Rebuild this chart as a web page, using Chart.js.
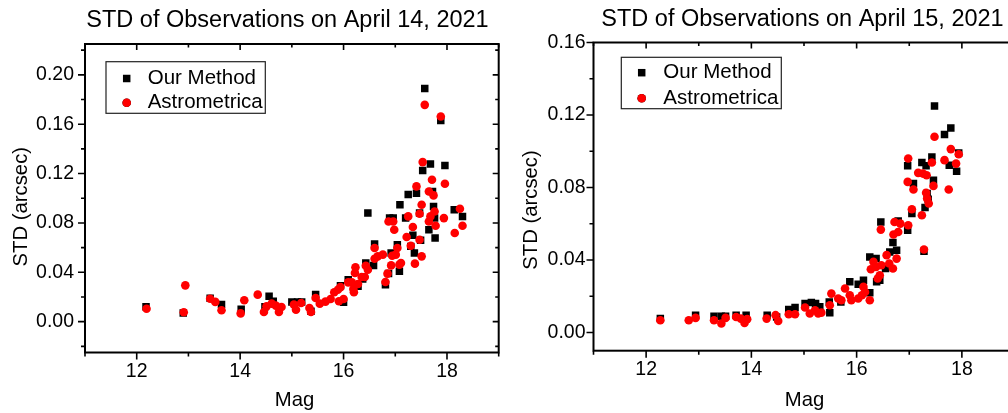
<!DOCTYPE html>
<html>
<head>
<meta charset="utf-8">
<title>STD of Observations</title>
<script src="https://cdn.jsdelivr.net/npm/chart.js@4.4.1/dist/chart.umd.min.js"></script>
<style>
  html, body { margin: 0; padding: 0; background: #fff; overflow: hidden; width: 1008px; height: 413px; }
  canvas { position: absolute; top: 0; }
  #c14 { left: 0; }
  #c15 { left: 504px; }
</style>
</head>
<body>
<canvas id="c14" width="504" height="413"></canvas>
<canvas id="c15" width="526" height="413"></canvas>
<script>
// ---- April 14, 2021 ----
const ourMag14 = [12.18, 12.90, 13.42, 13.64, 14.02, 14.48, 14.56, 14.64, 15.00, 15.11,
  15.19, 15.37, 15.46, 15.94, 16.00, 16.09, 16.28, 16.37, 16.43, 16.47,
  16.58, 16.60, 16.81, 16.87, 16.89, 16.96, 16.92, 17.04, 17.08, 17.09,
  17.20, 17.25, 17.30, 17.34, 17.37, 17.41, 17.47, 17.49, 17.53, 17.57,
  17.65, 17.68, 17.72, 17.74, 17.76, 17.77, 17.88, 17.96, 18.14, 18.30];
const ourStd14 = [0.012, 0.007, 0.019, 0.014, 0.010, 0.012, 0.0205, 0.0165, 0.016, 0.016,
  0.016, 0.0084, 0.022, 0.029, 0.0157, 0.034, 0.0286, 0.0345, 0.0475, 0.088,
  0.0456, 0.063, 0.030, 0.039, 0.084, 0.084, 0.0556, 0.0623, 0.0408, 0.0947,
  0.084, 0.103, 0.061, 0.070, 0.0556, 0.104, 0.088, 0.066, 0.1225, 0.189,
  0.0745, 0.1277, 0.1055, 0.0934, 0.084, 0.0677, 0.163, 0.1266, 0.0907, 0.0853];
const astMag14 = [12.19, 12.91, 12.94, 13.42, 13.52, 13.64, 14.01, 14.08, 14.34, 14.46,
  14.51, 14.61, 14.69, 14.75, 14.80, 15.04, 15.08, 15.18, 15.34, 15.37,
  15.46, 15.54, 15.65, 15.75, 15.82, 15.89, 15.94, 15.91, 16.00, 16.09,
  16.16, 16.19, 16.22, 16.23, 16.20, 16.28, 16.35, 16.41, 16.43, 16.47,
  16.60, 16.60, 16.66, 16.76, 16.81, 16.85, 16.87, 16.92, 16.94, 16.96,
  16.98, 17.01, 17.04, 17.08, 17.11, 17.22, 17.25, 17.30, 17.34, 17.38,
  17.41, 17.47, 17.51, 17.47, 17.51, 17.53, 17.57, 17.65, 17.65, 17.68,
  17.71, 17.74, 17.76, 17.78, 17.88, 17.94, 17.96, 18.15, 18.25, 18.30];
const astStd14 = [0.0105, 0.0076, 0.0294, 0.0186, 0.016, 0.0092, 0.0067, 0.0173, 0.0219, 0.0078,
  0.0124, 0.0146, 0.013, 0.0078, 0.0119, 0.0138, 0.0097, 0.0151, 0.011, 0.0078,
  0.0192, 0.0146, 0.0162, 0.0184, 0.0238, 0.0259, 0.028, 0.0165, 0.0184, 0.0318,
  0.0318, 0.0265, 0.0394, 0.044, 0.0238, 0.0305, 0.0362, 0.0362, 0.0453, 0.0421,
  0.0597, 0.051, 0.0529, 0.0543, 0.0321, 0.0389, 0.0812, 0.0456, 0.0534, 0.0812,
  0.0745, 0.0543, 0.0597, 0.0462, 0.0475, 0.0686, 0.0853, 0.0615, 0.0767, 0.047,
  0.1096, 0.0875, 0.0947, 0.0664, 0.0529, 0.1293, 0.1757, 0.1055, 0.0812, 0.0853,
  0.115, 0.1023, 0.0893, 0.0777, 0.1663, 0.0839, 0.1117, 0.0718, 0.0915, 0.0777];

// ---- April 15, 2021 ----
const ourMag15 = [12.27, 12.94, 13.29, 13.43, 13.51, 13.71, 13.90, 14.30, 14.48, 14.71,
  14.83, 15.02, 15.14, 15.22, 15.30, 15.48, 15.49, 15.70, 15.87, 16.03,
  16.13, 16.25, 16.25, 16.37, 16.38, 16.44, 16.46, 16.55, 16.63, 16.69,
  16.76, 16.79, 16.97, 16.97, 17.05, 17.08, 17.24, 17.28, 17.30, 17.32,
  17.34, 17.36, 17.43, 17.46, 17.48, 17.67, 17.76, 17.79, 17.90, 17.94];
const ourStd15 = [0.0077, 0.0096, 0.009, 0.009, 0.009, 0.0096, 0.0096, 0.0096, 0.0086, 0.0127,
  0.0138, 0.016, 0.0166, 0.016, 0.0142, 0.0169, 0.0109, 0.0169, 0.028, 0.0267,
  0.0289, 0.0219, 0.0417, 0.0408, 0.028, 0.0289, 0.061, 0.0353, 0.0445, 0.0497,
  0.0454, 0.0616, 0.092, 0.0565, 0.0657, 0.0822, 0.0938, 0.0449, 0.069, 0.092,
  0.0767, 0.0736, 0.0969, 0.084, 0.125, 0.1092, 0.0923, 0.1129, 0.089, 0.0991];
const astMag15 = [12.27, 12.81, 12.94, 13.29, 13.43, 13.51, 13.71, 13.80, 13.87, 13.92,
  14.29, 14.46, 14.51, 14.71, 14.83, 15.02, 15.11, 15.21, 15.27, 15.33,
  15.49, 15.52, 15.65, 15.71, 15.78, 15.87, 15.90, 16.03, 16.10, 16.13,
  16.16, 16.25, 16.27, 16.32, 16.37, 16.40, 16.44, 16.46, 16.47, 16.57,
  16.62, 16.69, 16.70, 16.72, 16.76, 16.79, 16.83, 16.97, 16.98, 16.98,
  17.05, 17.08, 17.17, 17.24, 17.26, 17.28, 17.32, 17.33, 17.34, 17.37,
  17.43, 17.46, 17.48, 17.67, 17.75, 17.79, 17.89, 17.94];
const astStd15 = [0.0068, 0.0068, 0.0081, 0.0068, 0.005, 0.0081, 0.0086, 0.0077, 0.0053, 0.0074,
  0.0077, 0.0096, 0.0064, 0.0101, 0.0101, 0.0138, 0.0105, 0.0123, 0.0105, 0.011,
  0.0151, 0.0215, 0.0188, 0.0178, 0.0243, 0.0206, 0.0178, 0.0188, 0.0206, 0.0252,
  0.0224, 0.0178, 0.0349, 0.039, 0.0362, 0.0298, 0.0316, 0.0568, 0.0371, 0.0427,
  0.0381, 0.0353, 0.0541, 0.061, 0.0408, 0.0555, 0.0601, 0.0831, 0.096, 0.0592,
  0.068, 0.0789, 0.0881, 0.0647, 0.0877, 0.0458, 0.0771, 0.0868, 0.0739, 0.0712,
  0.0938, 0.0809, 0.108, 0.0951, 0.0789, 0.1012, 0.0932, 0.0984];

// ---- axis ticks ----
const magMajor = [12, 14, 16, 18];
const magMinor = [11, 13, 15, 17, 19];
const stdMajor14 = [0.00, 0.04, 0.08, 0.12, 0.16, 0.20];
const stdMinor14 = [-0.02, 0.02, 0.06, 0.10, 0.14, 0.18, 0.22];
const stdMajor15 = [0.00, 0.04, 0.08, 0.12, 0.16];
const stdMinor15 = [0.02, 0.06, 0.10, 0.14];

const seriesNames = ['Our Method', 'Astrometrica'];
const FONT = '"Liberation Sans", Arial, Helvetica, sans-serif';

function zip(xs, ys) { return xs.map((x, i) => ({ x: x, y: ys[i] })); }

// Box frame with outward ticks on left/bottom and inward ticks on top/right
const framePlugin = {
  id: 'frame',
  afterDraw(chart, args, opts) {
    const ctx = chart.ctx;
    const { left, right, top, bottom } = chart.chartArea;
    const sx = chart.scales.x, sy = chart.scales.y;
    ctx.save();
    ctx.strokeStyle = '#000';
    ctx.lineWidth = 1.6;
    ctx.beginPath();
    const tick = (x1, y1, x2, y2) => { ctx.moveTo(x1, y1); ctx.lineTo(x2, y2); };
    opts.xMajor.forEach(v => { const p = sx.getPixelForValue(v); tick(p, bottom, p, bottom + 7); tick(p, top, p, top + 6); });
    opts.xMinor.forEach(v => { const p = sx.getPixelForValue(v); tick(p, bottom, p, bottom + 4); tick(p, top, p, top + 3.5); });
    opts.yMajor.forEach(v => { const p = sy.getPixelForValue(v); tick(left - 7, p, left, p); tick(right, p, right - 6, p); });
    opts.yMinor.forEach(v => { const p = sy.getPixelForValue(v); tick(left - 4, p, left, p); tick(right, p, right - 3.5, p); });
    ctx.stroke();
    ctx.lineWidth = 2;
    ctx.strokeRect(left, top, right - left, bottom - top);
    ctx.restore();
  }
};

// Legend box inside the plot area
const boxLegendPlugin = {
  id: 'boxLegend',
  afterDraw(chart, args, opts) {
    const ctx = chart.ctx;
    ctx.save();
    ctx.fillStyle = '#fff';
    ctx.fillRect(opts.x, opts.y, opts.w, opts.h);
    ctx.strokeStyle = '#222';
    ctx.lineWidth = 1.2;
    ctx.strokeRect(opts.x, opts.y, opts.w, opts.h);
    chart.data.datasets.forEach((ds, i) => {
      const row = opts.rows[i];
      Chart.helpers.drawPoint(ctx, {
        pointStyle: ds.pointStyle, radius: ds.pointRadius, rotation: 0, borderWidth: 0
      }, opts.markerX, row.my);
      ctx.fillStyle = ds.backgroundColor;
      ctx.fill();
      ctx.fillStyle = '#000';
      ctx.font = opts.fontSize + 'px ' + FONT;
      ctx.textAlign = 'left';
      ctx.textBaseline = 'alphabetic';
      ctx.fillText(ds.label, opts.textX, row.ty);
    });
    ctx.restore();
  }
};

// Chart title and axis titles
const headingPlugin = {
  id: 'heading',
  afterDraw(chart, args, opts) {
    const ctx = chart.ctx;
    ctx.save();
    ctx.fillStyle = '#000';
    ctx.textBaseline = 'alphabetic';
    ctx.textAlign = 'center';
    ctx.font = opts.titleSize + 'px ' + FONT;
    ctx.fillText(opts.title, opts.titleX, opts.titleY);
    ctx.font = opts.axisSize + 'px ' + FONT;
    ctx.fillText(opts.xTitle, opts.xTitleX, opts.xTitleY);
    ctx.translate(opts.yTitleX, opts.yTitleY);
    ctx.rotate(-Math.PI / 2);
    ctx.fillText(opts.yTitle, 0, 0);
    ctx.restore();
  }
};

function makePanel(id, p) {
  const canvas = document.getElementById(id);
  const W = canvas.width, H = canvas.height;
  return new Chart(canvas, {
    type: 'scatter',
    data: {
      datasets: [
        { label: seriesNames[0], data: zip(p.ourMag, p.ourStd), pointStyle: 'rect', pointRadius: 5.3,
          backgroundColor: '#000000', borderColor: '#000000', borderWidth: 0, order: 2 },
        { label: seriesNames[1], data: zip(p.astMag, p.astStd), pointStyle: 'circle', pointRadius: 4.3,
          backgroundColor: '#ff0000', borderColor: '#ff0000', borderWidth: 0, order: 1 }
      ]
    },
    options: {
      responsive: false,
      animation: false,
      events: [],
      layout: { padding: { top: p.area.top, right: W - p.area.right, left: 0, bottom: 0 } },
      plugins: {
        legend: { display: false },
        tooltip: { enabled: false },
        title: { display: false },
        frame: { xMajor: magMajor, xMinor: magMinor, yMajor: p.yMajor, yMinor: p.yMinor },
        boxLegend: p.legend,
        heading: p.heading
      },
      scales: {
        x: {
          type: 'linear', min: 11, max: 19, bounds: 'data',
          afterBuildTicks: s => { s.ticks = magMajor.map(v => ({ value: v })); },
          afterFit: s => { s.height = H - p.area.bottom; },
          grid: { display: false, drawTicks: false },
          border: { display: false },
          ticks: { color: '#000', font: { family: FONT, size: 19.5 }, padding: p.xPad,
                   maxRotation: 0, autoSkip: false, callback: v => String(v) }
        },
        y: {
          type: 'linear', min: p.yMin, max: p.yMax, bounds: 'data',
          afterBuildTicks: s => { s.ticks = p.yMajor.map(v => ({ value: v })); },
          afterFit: s => { s.width = p.area.left; },
          grid: { display: false, drawTicks: false },
          border: { display: false },
          ticks: { color: '#000', font: { family: FONT, size: 19.5 }, padding: p.yPad,
                   autoSkip: false, callback: v => Number(v).toFixed(2) }
        }
      }
    },
    plugins: [framePlugin, boxLegendPlugin, headingPlugin]
  });
}

makePanel('c14', {
  ourMag: ourMag14, ourStd: ourStd14, astMag: astMag14, astStd: astStd14,
  yMin: -0.025, yMax: 0.225, yMajor: stdMajor14, yMinor: stdMinor14,
  area: { left: 85, right: 502.7, top: 44, bottom: 352.5 },
  xPad: 7, yPad: 11,
  legend: { x: 106, y: 61.7, w: 159.3, h: 51.6, markerX: 126.7, textX: 147.7, fontSize: 20.5,
            rows: [{ my: 78.5, ty: 83.5 }, { my: 102.7, ty: 108.3 }] },
  heading: { title: 'STD of Observations on April 14, 2021', titleSize: 23.5, titleX: 287.5, titleY: 26.7,
             xTitle: 'Mag', xTitleX: 294.5, xTitleY: 406, axisSize: 20.3,
             yTitle: 'STD (arcsec)', yTitleX: 26.5, yTitleY: 206.7 }
});

makePanel('c15', {
  ourMag: ourMag15, ourStd: ourStd15, astMag: astMag15, astStd: astStd15,
  yMin: -0.01, yMax: 0.16, yMajor: stdMajor15, yMinor: stdMinor15,
  area: { left: 89.5, right: 510.5, top: 42.5, bottom: 350.7 },
  xPad: 7, yPad: 8,
  legend: { x: 117.3, y: 57.3, w: 160, h: 51.4, markerX: 137.7, textX: 159.3, fontSize: 20.5,
            rows: [{ my: 72.7, ty: 78.3 }, { my: 98.3, ty: 104 }] },
  heading: { title: 'STD of Observations on April 15, 2021', titleSize: 23.5, titleX: 298.5, titleY: 26,
             xTitle: 'Mag', xTitleX: 300.5, xTitleY: 406, axisSize: 20.3,
             yTitle: 'STD (arcsec)', yTitleX: 32.5, yTitleY: 210 }
});
</script>
</body>
</html>
